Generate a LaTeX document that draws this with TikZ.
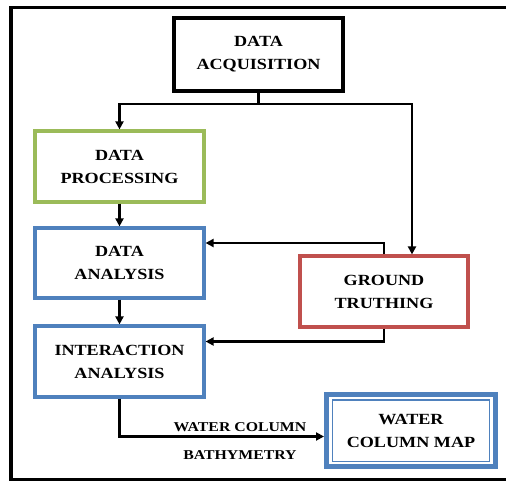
\documentclass[tikz,border=0pt]{standalone}
\usepackage{fontspec}
\setmainfont{Liberation Serif}[FakeStretch=1.17]
\usetikzlibrary{arrows.meta}
\definecolor{bgreen}{HTML}{9BBB59}
\definecolor{bblue}{HTML}{4F81BD}
\definecolor{bred}{HTML}{C0504D}
\begin{document}
\begin{tikzpicture}[x=1pt,y=-1pt,
  box/.style={draw, rectangle, line width=3.2pt, align=center, inner sep=0pt,
    font=\fontsize{15.5}{23}\selectfont\bfseries},
  conn/.style={line width=2.2pt},
  arr/.style={conn, -{Triangle[length=8pt,width=8pt]}},
  lbl/.style={font=\fontsize{13.5}{15}\selectfont\bfseries, inner sep=0pt}]
\useasboundingbox (0,0) rectangle (506,481);
% frame
\draw[line width=3.6pt] (508,7.5) -- (11,7.5) -- (11,479.5) -- (508,479.5);
% nodes
\node[box, line width=4pt, minimum width=169pt, minimum height=73pt] (acq) at (258.5,54.5) {DATA\\ACQUISITION};
\node[box, draw=bgreen, minimum width=169pt, minimum height=71pt] (proc) at (119.5,166.5) {DATA\\PROCESSING};
\node[box, draw=bblue, minimum width=169pt, minimum height=70pt] (ana) at (119.5,263) {DATA\\ANALYSIS};
\node[box, draw=bred, minimum width=168pt, minimum height=71pt] (gt) at (384,291.5) {GROUND\\TRUTHING};
\node[box, draw=bblue, minimum width=169pt, minimum height=71pt] (ia) at (119.5,361.5) {INTERACTION\\ANALYSIS};
\node[box, draw=bblue, line width=5pt, minimum width=169pt, minimum height=72pt] (wcm) at (411,430.5) {};
\node[box, draw=bblue, line width=1.7pt, minimum width=157pt, minimum height=61.5pt] (wcmin) at (411,430.7) {WATER\\COLUMN MAP};
% connectors
\coordinate (j) at (258.5,104);
\draw[conn] (acq.south) -- (j);
\draw[arr] (j) -| (proc.north);
\draw[arr] (j) -| ([xshift=28pt]gt.north);
\draw[arr] (proc.south) -- (ana.north);
\draw[arr] (ana.south) -- (ia.north);
\draw[arr] (gt.north) |- ([yshift=20pt]ana.east);
\draw[arr] (gt.south) |- ([yshift=20pt]ia.east);
\draw[arr] (ia.south) |- ([yshift=-6pt]wcm.west);
% labels
\node[lbl] (l1) at (240,427) {WATER COLUMN};
\node[lbl] (l2) at (240,455) {BATHYMETRY};
\end{tikzpicture}
\end{document}
